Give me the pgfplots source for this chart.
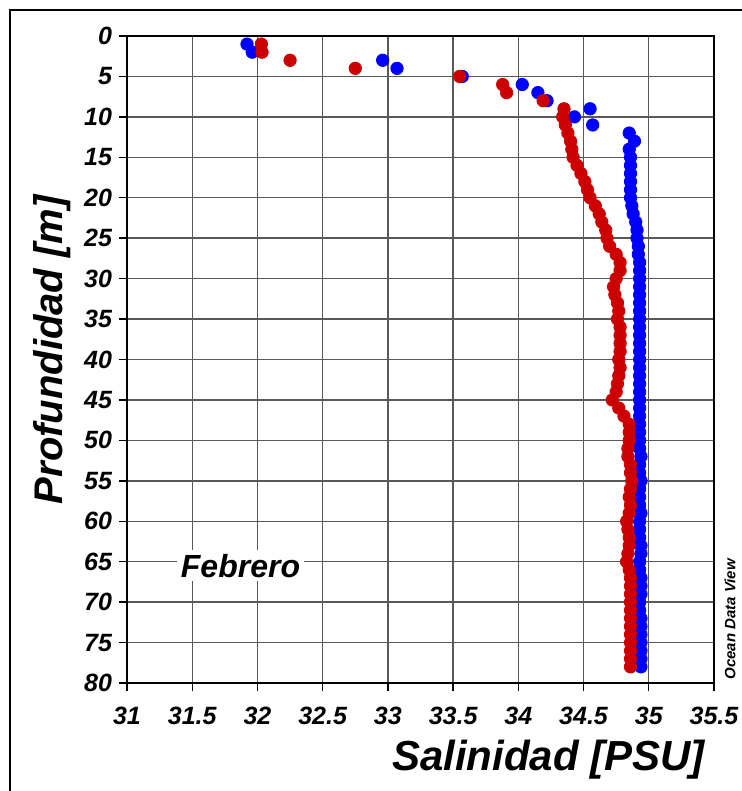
\documentclass[border=0pt]{standalone}
\usepackage{fontspec}
\setmainfont{Liberation Sans}
\usepackage{pgfplots}
\pgfplotsset{compat=1.18}
\usepackage{pgfplotstable}
\definecolor{castBlue}{HTML}{0000FF}
\definecolor{castRed}{HTML}{CC0000}

% salinity (PSU) vs depth (m)
\pgfplotstableread{
S d
31.92 1
31.96 2
32.96 3
33.07 4
33.57 5
34.03 6
34.15 7
34.22 8
34.55 9
34.43 10
34.57 11
34.85 12
34.89 13
34.85 14
34.86 15
34.86 16
34.86 17
34.86 18
34.86 19
34.86 20
34.87 21
34.88 22
34.90 23
34.91 24
34.91 25
34.92 26
34.92 27
34.93 28
34.93 29
34.93 30
34.93 31
34.93 32
34.93 33
34.93 34
34.93 35
34.93 36
34.93 37
34.93 38
34.93 39
34.93 40
34.93 41
34.93 42
34.93 43
34.93 44
34.93 45
34.93 46
34.93 47
34.93 48
34.93 49
34.93 50
34.93 51
34.94 52
34.93 53
34.93 54
34.94 55
34.93 56
34.93 57
34.93 58
34.94 59
34.93 60
34.93 61
34.93 62
34.94 63
34.94 64
34.93 65
34.93 66
34.94 67
34.94 68
34.94 69
34.93 70
34.93 71
34.94 72
34.94 73
34.94 74
34.94 75
34.94 76
34.94 77
34.94 78
}\blueCast

\pgfplotstableread{
S d
32.03 1
32.035 2
32.25 3
32.75 4
33.55 5
33.88 6
33.91 7
34.19 8
34.35 9
34.34 10
34.36 11
34.38 12
34.40 13
34.41 14
34.42 15
34.45 16
34.48 17
34.51 18
34.53 19
34.55 20
34.59 21
34.62 22
34.64 23
34.67 24
34.68 25
34.70 26
34.75 27
34.78 28
34.78 29
34.75 30
34.73 31
34.74 32
34.76 33
34.77 34
34.76 35
34.78 36
34.78 37
34.78 38
34.78 39
34.77 40
34.78 41
34.77 42
34.76 43
34.75 44
34.72 45
34.77 46
34.81 47
34.85 48
34.85 49
34.85 50
34.84 51
34.84 52
34.86 53
34.86 54
34.87 55
34.86 56
34.85 57
34.86 58
34.85 59
34.83 60
34.84 61
34.85 62
34.85 63
34.84 64
34.83 65
34.85 66
34.86 67
34.86 68
34.86 69
34.86 70
34.86 71
34.86 72
34.86 73
34.86 74
34.86 75
34.86 76
34.86 77
34.86 78
}\redCast

\begin{document}
\begin{tikzpicture}
\useasboundingbox (-63.5pt,-54pt) rectangle (307.5pt,341.5pt);
% outer frame (only left and top edges fall inside the picture)
\draw[line width=1.2pt] (-58.5pt,-70pt) -- (-58.5pt,336.5pt) -- (330pt,336.5pt);
\begin{axis}[
  at={(0,0)}, anchor=south west,
  scale only axis,
  width=293.5pt, height=323.5pt,
  xmin=31, xmax=35.5,
  ymin=0, ymax=80,
  y dir=reverse,
  xtick={31,31.5,...,35.5},
  ytick={0,5,...,80},
  xticklabels={31,31.5,32,32.5,33,33.5,34,34.5,35,35.5},
  grid=major,
  grid style={black!65, line width=0.7pt},
  axis line style={black, line width=0.9pt},
  tick align=outside,
  tick pos=left,
  major tick length=4pt,
  tick style={black, line width=0.7pt},
  /pgf/number format/assume math mode=true,
  ticklabel style={font=\bfseries\itshape\fontsize{12.5}{14}\selectfont},
  xticklabel style={yshift=-4.5pt},
  xlabel={Salinidad [PSU]},
  xlabel style={at={(axis description cs:1,0)}, anchor=east,
    yshift=-38.5pt, xshift=-1pt,
    font=\bfseries\itshape\fontsize{21}{24}\selectfont},
  ylabel={Profundidad [m]},
  ylabel style={at={(axis description cs:-0.128,0.515)}, anchor=center,
    rotate=0, font=\bfseries\itshape\fontsize{20}{24}\selectfont},
  clip=false,
]
\addplot[only marks, mark=*, mark size=3.1pt, color=castBlue]
  table[x=S, y=d] {\blueCast};
\addplot[only marks, mark=*, mark size=3.1pt, color=castRed]
  table[x=S, y=d] {\redCast};

\node[fill=white, inner sep=2pt, font=\bfseries\itshape\fontsize{16}{18}\selectfont]
  at (axis cs:31.87,65.5) {Febrero};
\node[rotate=90, anchor=west, inner sep=0pt,
  font=\bfseries\itshape\fontsize{7.5}{9}\selectfont]
  at ([xshift=8pt, yshift=1.5pt]rel axis cs:1,0) {Ocean Data View};
\end{axis}
\end{tikzpicture}
\end{document}
